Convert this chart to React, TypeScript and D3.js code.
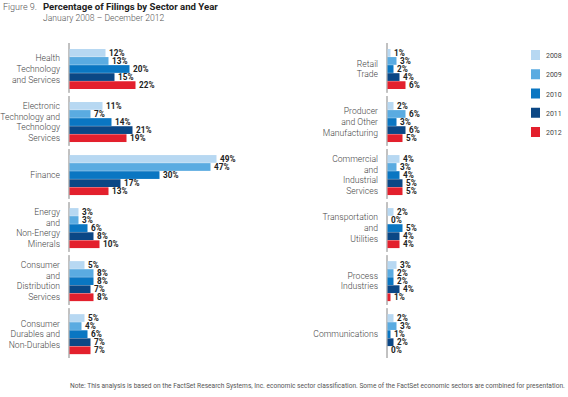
import React from 'react';
import * as d3 from 'd3';

const years = ['2008', '2009', '2010', '2011', '2012'];
const colors = ['#b7d8f2', '#5aabe1', '#0a76c2', '#0b4785', '#e3202d'];

const leftSectors = [
  ['Health', 'Technology', 'and Services'],
  ['Electronic', 'Technology and', 'Technology', 'Services'],
  ['Finance'],
  ['Energy', 'and', 'Non-Energy', 'Minerals'],
  ['Consumer', 'and', 'Distribution', 'Services'],
  ['Consumer', 'Durables and', 'Non-Durables'],
];
const rightSectors = [
  ['Retail', 'Trade'],
  ['Producer', 'and Other', 'Manufacturing'],
  ['Commercial', 'and', 'Industrial', 'Services'],
  ['Transportation', 'and', 'Utilities'],
  ['Process', 'Industries'],
  ['Communications'],
];

// one row per sector, values for 2008..2012
const leftValues = [
  [12, 13, 20, 15, 22],
  [11, 7, 14, 21, 19],
  [49, 47, 30, 17, 13],
  [3, 3, 6, 8, 10],
  [5, 8, 8, 7, 8],
  [5, 4, 6, 7, 7],
];
const rightValues = [
  [1, 3, 2, 4, 6],
  [2, 6, 3, 6, 5],
  [4, 3, 4, 5, 5],
  [2, 0, 5, 4, 4],
  [3, 2, 2, 4, 1],
  [2, 3, 1, 2, 0],
];

const font = 'Roboto, "Open Sans", sans-serif';

function Panel({ axisX, sectors, values }) {
  const x = d3.scaleLinear().domain([0, 49]).range([0, 147]);
  const group = d3.scaleBand().domain(d3.range(sectors.length)).range([43, 358]).paddingInner(0.06);
  const bar = d3.scaleBand().domain(years).range([6, 46]).paddingInner(0.04);
  return (
    <g>
      {sectors.map((lines, i) => {
        const top = group(i);
        const mid = top + 26;
        const lh = 10.6;
        return (
          <g key={i}>
            <line x1={axisX} x2={axisX} y1={top} y2={top + group.bandwidth()} stroke="#666" strokeWidth={0.8} />
            {lines.map((t, j) => (
              <text
                key={j}
                x={axisX - 9}
                y={mid + (j - (lines.length - 1) / 2) * lh + 3}
                textAnchor="end"
                fontSize={8.6}
                fontWeight={300}
                fill="#444"
              >
                {t}
              </text>
            ))}
            {years.map((yr, k) => {
              const v = values[i][k];
              const y = top + bar(yr);
              return (
                <g key={yr}>
                  <rect x={axisX + 0.5} y={y} width={x(v)} height={bar.bandwidth()} fill={colors[k]} />
                  <text x={axisX + x(v) + 4} y={y + bar.bandwidth() - 1} fontSize={8.2} fontWeight={700} fill="#222">
                    {v}%
                  </text>
                </g>
              );
            })}
          </g>
        );
      })}
    </g>
  );
}

export default function App() {
  const legendY = d3.scalePoint().domain(years).range([50, 127]);
  return (
    <svg
      width={568}
      height={397}
      style={{ position: 'absolute', left: 0, top: 0, background: '#fff' }}
      fontFamily={font}
    >
      <text x={3} y={10} fontSize={9} fontWeight={300} fill="#555">Figure 9.</text>
      <text x={43} y={10} fontSize={9.6} fontWeight={700} fill="#222">Percentage of Filings by Sector and Year</text>
      <text x={43} y={21} fontSize={8.6} fontWeight={300} fill="#555">January 2008 – December 2012</text>

      <Panel axisX={69} sectors={leftSectors} values={leftValues} />
      <Panel axisX={387} sectors={rightSectors} values={rightValues} />

      {years.map((yr, k) => (
        <g key={yr}>
          <rect x={531} y={legendY(yr)} width={9} height={10} fill={colors[k]} />
          <text x={546} y={legendY(yr) + 8} fontSize={7} fill="#444">{yr}</text>
        </g>
      ))}

      <text x={70} y={388} fontSize={6.6} fill="#555">
        Note: This analysis is based on the FactSet Research Systems, Inc. economic sector classification. Some of the FactSet economic sectors are combined for presentation.
      </text>
    </svg>
  );
}
